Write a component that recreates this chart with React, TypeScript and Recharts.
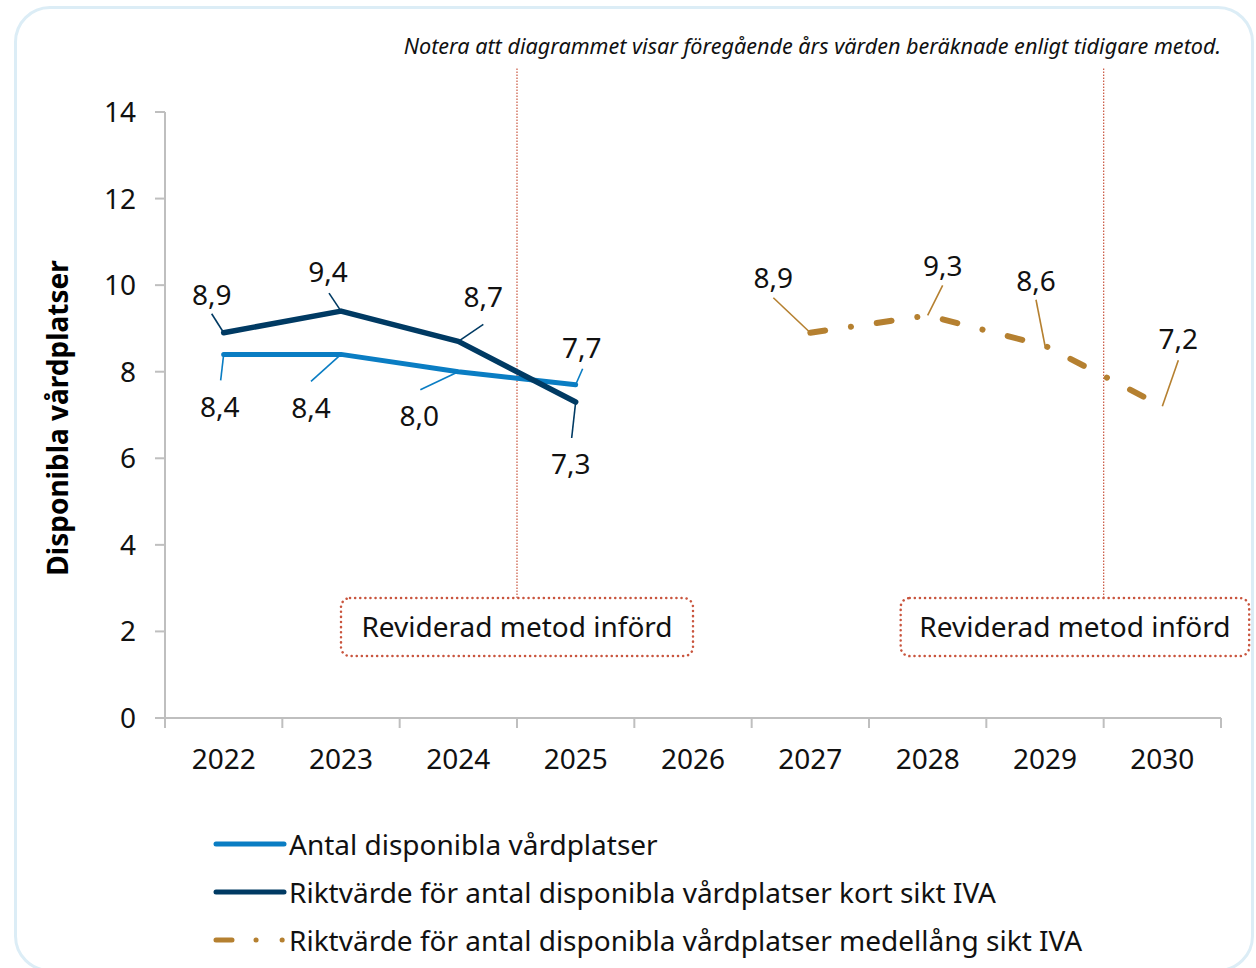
import { Line, LineChart, ReferenceArea, ReferenceLine, XAxis, YAxis, LabelList } from 'recharts';

const years = ['2022', '2023', '2024', '2025', '2026', '2027', '2028', '2029', '2030'];
const antal = [8.4, 8.4, 8.0, 7.7, null, null, null, null, null];
const kortSikt = [8.9, 9.4, 8.7, 7.3, null, null, null, null, null];
const medellangSikt = [null, null, null, null, null, 8.9, 9.3, 8.6, 7.2];
const yTicks = [0, 2, 4, 6, 8, 10, 12, 14];

const noteText = 'Notera att diagrammet visar föregående års värden beräknade enligt tidigare metod.';
const methodNote = 'Reviderad metod införd';

// label leader offsets per point: [lineDx, lineDy, textDx, textDy]
const antalLabelPos = [[-3, 26, -4, 52], [-30, 27, -30, 53], [-38, 18, -39, 43], [7, -16, 6, -38]];
const kortLabelPos = [[-12, -19, -12, -39], [-12, -18, -13, -40], [25, -17, 25, -45], [-4, 36, -5, 61]];
const medelLabelPos = [null, null, null, null, null, [-37, -35, -37, -56], [15, -30, 15, -50], [-9, -46, -9, -66], [16, -46, 16, -68]];

const FONT = '"Noto Sans", "Open Sans", sans-serif';
const AXIS = '#bfbfbf';
const C_ANTAL = '#0a7dc3';
const C_KORT = '#003a63';
const C_MEDEL = '#b58030';
const C_REF = '#c9553e';
const MEDEL_DASH = '15 26 0.1 26';

const data = years.map((year, i) => ({
  idx: i,
  year,
  antal: antal[i],
  kort: kortSikt[i],
  medel: medellangSikt[i],
}));

const xTicks: number[] = [];
years.forEach((_, i) => {
  xTicks.push(i - 0.5, i);
});
xTicks.push(years.length - 0.5);

const series = [
  { key: 'antal', name: 'Antal disponibla vårdplatser', color: C_ANTAL, width: 5, dash: undefined, pos: antalLabelPos },
  { key: 'kort', name: 'Riktvärde för antal disponibla vårdplatser kort sikt IVA', color: C_KORT, width: 5.5, dash: undefined, pos: kortLabelPos },
  { key: 'medel', name: 'Riktvärde för antal disponibla vårdplatser medellång sikt IVA', color: C_MEDEL, width: 6, dash: MEDEL_DASH, pos: medelLabelPos },
];

const fmt = (v: number) => v.toFixed(1).replace('.', ',');

function makeLabel(pos: (number[] | null)[], color: string) {
  return (props: any) => {
    const { x, y, value, index } = props;
    const p = pos[index];
    if (value == null || x == null || y == null || !p) return null;
    return (
      <g>
        <line x1={x} y1={y} x2={x + p[0]} y2={y + p[1]} stroke={color} strokeWidth={1.6} />
        <text
          x={x + p[2]}
          y={y + p[3]}
          textAnchor="middle"
          dominantBaseline="central"
          fontSize={28}
          fontFamily={FONT}
          fill="#111"
        >
          {fmt(value)}
        </text>
      </g>
    );
  };
}

function XTick(props: any) {
  const { x, y, payload } = props;
  const v = payload.value;
  if (!Number.isInteger(v)) {
    return <line x1={x} y1={y} x2={x} y2={y + 10} stroke={AXIS} strokeWidth={2} />;
  }
  return (
    <text x={x} y={y + 40} textAnchor="middle" dominantBaseline="central" fontSize={28} fontFamily={FONT} fill="#111">
      {years[v]}
    </text>
  );
}

function YLabel(props: any) {
  const { viewBox } = props;
  const cx = viewBox.x - 48;
  const cy = viewBox.y + viewBox.height / 2 + 3;
  return (
    <text
      x={cx}
      y={cy}
      transform={`rotate(-90 ${cx} ${cy})`}
      textAnchor="middle"
      dominantBaseline="central"
      fontSize={28}
      fontWeight="bold"
      fontFamily={FONT}
      fill="#000"
    >
      Disponibla vårdplatser
    </text>
  );
}

function BoxShape(props: any) {
  const { x, y, width, height } = props;
  return (
    <rect
      x={x}
      y={y}
      width={width}
      height={height}
      rx={9}
      fill="#fff"
      stroke={C_REF}
      strokeWidth={2.5}
      strokeDasharray="0.1 5"
      strokeLinecap="round"
    />
  );
}

function ChartLegend() {
  return (
    <div style={{ position: 'absolute', left: 210, top: 820, fontFamily: FONT, fontSize: 28, color: '#111' }}>
      {series.map((s) => (
        <div key={s.key} style={{ display: 'flex', alignItems: 'center', height: 48, whiteSpace: 'nowrap' }}>
          <svg width={79} height={12} style={{ display: 'block' }}>
            <line
              x1={6}
              y1={6}
              x2={74}
              y2={6}
              stroke={s.color}
              strokeWidth={5}
              strokeLinecap="round"
              strokeDasharray={s.dash ? '16 24 0.1 26 0.1 40' : undefined}
            />
          </svg>
          <span>{s.name}</span>
        </div>
      ))}
    </div>
  );
}

export default function App() {
  return (
    <div style={{ position: 'relative', width: 1256, height: 968, overflow: 'hidden', background: '#fff' }}>
      <style>{'body{margin:0}'}</style>
      <div
        style={{
          position: 'absolute',
          left: 14,
          top: 6,
          width: 1240,
          height: 966,
          border: '3px solid #dcedf6',
          borderRadius: 36,
          boxSizing: 'border-box',
        }}
      />
      <div
        style={{
          position: 'absolute',
          right: 35,
          top: 32,
          fontFamily: FONT,
          fontStyle: 'italic',
          fontSize: 21.6,
          lineHeight: '28px',
          color: '#111',
          whiteSpace: 'nowrap',
        }}
      >
        {noteText}
      </div>
      <div style={{ position: 'absolute', left: 0, top: 0 }}>
        <LineChart width={1256} height={968} data={data} margin={{ top: 112, right: 35, left: 105, bottom: 210 }}>
          <XAxis
            dataKey="idx"
            type="number"
            domain={[-0.5, years.length - 0.5]}
            ticks={xTicks}
            interval={0}
            tickLine={false}
            tickSize={0}
            tickMargin={0}
            axisLine={{ stroke: AXIS, strokeWidth: 2 }}
            tick={<XTick />}
            height={40}
          />
          <YAxis
            domain={[0, 14]}
            ticks={yTicks}
            interval={0}
            width={60}
            tickSize={10}
            tickMargin={19}
            axisLine={{ stroke: AXIS, strokeWidth: 2 }}
            tickLine={{ stroke: AXIS, strokeWidth: 2 }}
            tick={{ fill: '#111', fontSize: 28, fontFamily: FONT }}
            label={<YLabel />}
          />
          <ReferenceLine
            segment={[{ x: 2.5, y: 2.77 }, { x: 2.5, y: 15.02 }]}
            stroke={C_REF}
            strokeWidth={1.2}
            strokeDasharray="1.5 1.5"
            ifOverflow="visible"
          />
          <ReferenceLine
            segment={[{ x: 7.5, y: 2.77 }, { x: 7.5, y: 15.02 }]}
            stroke={C_REF}
            strokeWidth={1.2}
            strokeDasharray="1.5 1.5"
            ifOverflow="visible"
          />
          <ReferenceArea
            x1={1.0}
            x2={4.0}
            y1={1.43}
            y2={2.77}
            ifOverflow="visible"
            shape={<BoxShape />}
            label={{ value: methodNote, position: 'center', fontSize: 28, fontFamily: FONT, fill: '#111' }}
          />
          <ReferenceArea
            x1={5.77}
            x2={8.74}
            y1={1.43}
            y2={2.77}
            ifOverflow="visible"
            shape={<BoxShape />}
            label={{ value: methodNote, position: 'center', fontSize: 28, fontFamily: FONT, fill: '#111' }}
          />
          {series.map((s) => (
            <Line
              key={s.key}
              type="linear"
              dataKey={s.key}
              name={s.name}
              stroke={s.color}
              strokeWidth={s.width}
              strokeDasharray={s.dash}
              strokeLinecap="round"
              strokeLinejoin="round"
              dot={false}
              activeDot={false}
              isAnimationActive={false}
            >
              <LabelList dataKey={s.key} content={makeLabel(s.pos, s.color)} />
            </Line>
          ))}
        </LineChart>
      </div>
      <ChartLegend />
    </div>
  );
}
